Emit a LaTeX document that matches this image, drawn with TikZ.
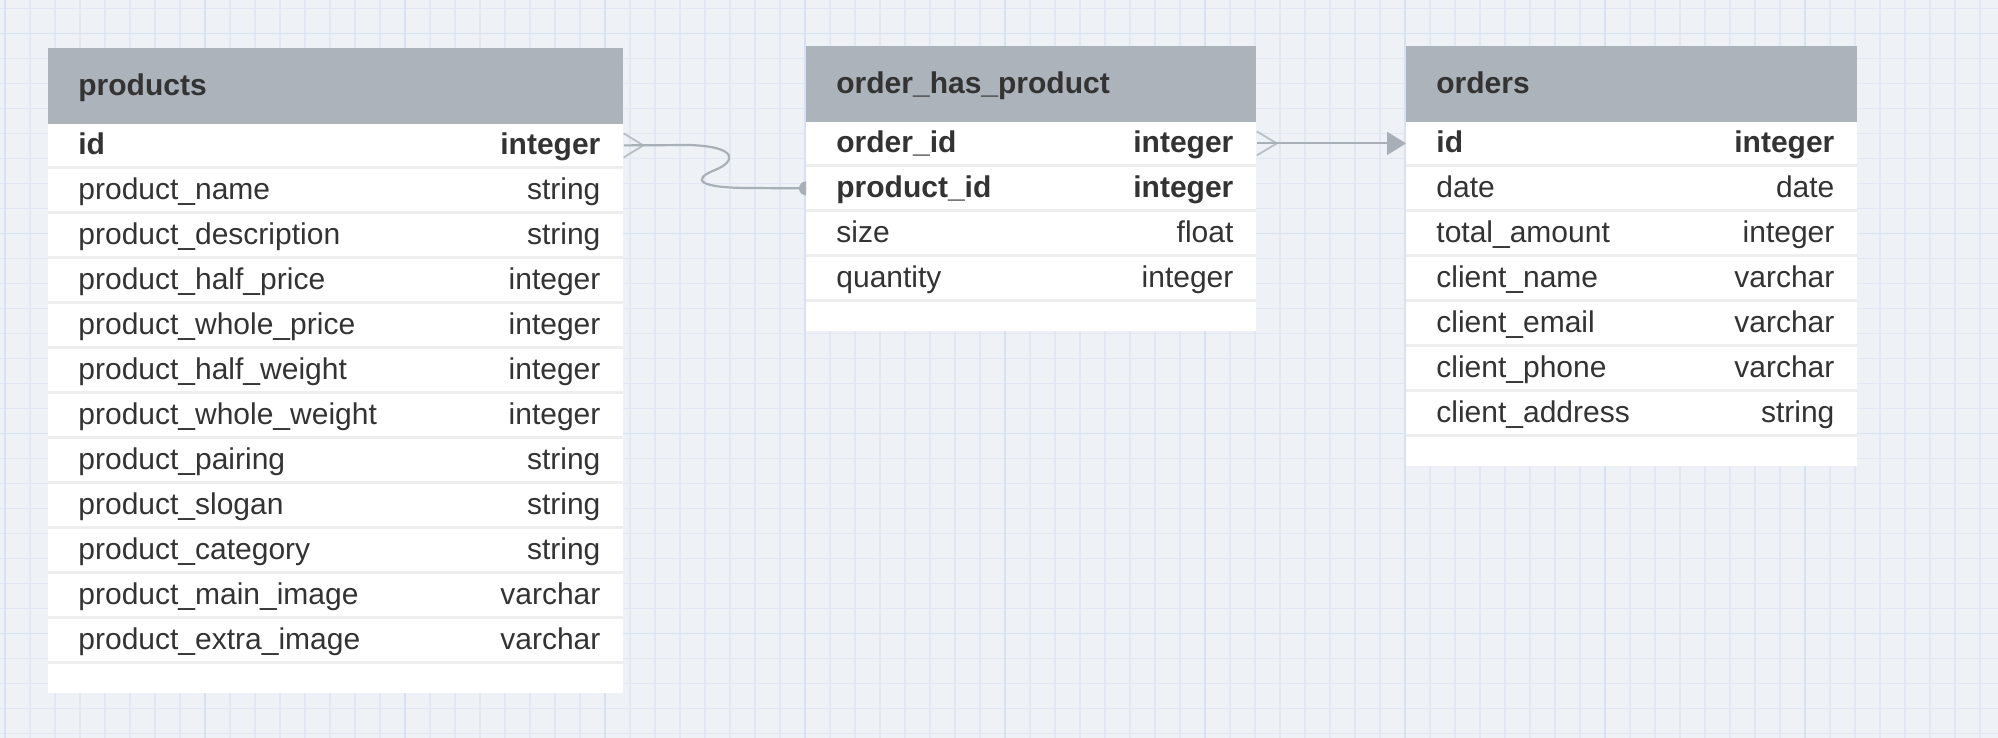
\documentclass[tikz,border=0pt]{standalone}
\usepackage{fontspec}
\setmainfont{Liberation Sans}
\usetikzlibrary{arrows.meta}

\definecolor{canvas}{HTML}{EEF2F6}
\definecolor{gridlo}{HTML}{E1E8F3}
\definecolor{gridhi}{HTML}{D8E1F2}
\definecolor{headgrey}{HTML}{ADB3BB}
\definecolor{sepgrey}{HTML}{EEEEEE}
\definecolor{ink}{HTML}{333333}
\definecolor{linkgrey}{HTML}{A9AFB7}
\definecolor{footgrey}{HTML}{B9BFC6}

\newcommand\fieldfont{\fontsize{15pt}{18pt}\selectfont}

\tikzset{
  row/.style={anchor=north west, fill=white, inner xsep=15pt, inner ysep=0pt,
    minimum height=21pt, text width=#1, align=left,
    text height=11pt, text depth=1.5pt, font=\fieldfont, text=ink},
  keyrow/.style={row=#1, font=\fieldfont\bfseries},
  head/.style={row=#1, fill=headgrey, minimum height=38pt, font=\fieldfont\bfseries},
  ftype/.style={anchor=east, xshift=-11.5pt, inner sep=0pt,
    text height=11pt, text depth=1.5pt, font=\fieldfont, text=ink},
  keytype/.style={ftype, font=\fieldfont\bfseries},
  minorline/.style={draw=gridlo, line width=0.75pt},
  majorline/.style={draw=gridhi, line width=0.75pt},
  link/.style={draw=linkgrey, line width=1.1pt},
  foot/.style={draw=footgrey, line width=0.9pt}
}

\begin{document}
\begin{tikzpicture}[x=0.5pt,y=-0.5pt]
\useasboundingbox (0,0) rectangle (1998,738);
\fill[canvas] (0,0) rectangle (1998,738);

% grid
\foreach \gx in {5,30,...,1980} \draw[minorline] (\gx,0) -- (\gx,738);
\foreach \gy in {8.5,33.5,...,733.5} \draw[minorline] (0,\gy) -- (1998,\gy);
\foreach \gx in {5,205,...,1805} \draw[majorline] (\gx,0) -- (\gx,738);
\foreach \gy in {33.5,233.5,433.5,633.5} \draw[majorline] (0,\gy) -- (1998,\gy);

% products
\fill[sepgrey] (48,124) rectangle (623,664);
\fill[white] (48,664) rectangle (623,693);
\node[head=257.5pt] (products) at (48,48) {products};
\node[keyrow=257.5pt, label={[keytype]east:integer}] (p-id) at (48,124) {id};
\node[row=257.5pt, label={[ftype]east:string}] (p-name) at (48,169) {product\_name};
\node[row=257.5pt, label={[ftype]east:string}] (p-desc) at (48,214) {product\_description};
\node[row=257.5pt, label={[ftype]east:integer}] (p-hprice) at (48,259) {product\_half\_price};
\node[row=257.5pt, label={[ftype]east:integer}] (p-wprice) at (48,304) {product\_whole\_price};
\node[row=257.5pt, label={[ftype]east:integer}] (p-hweight) at (48,349) {product\_half\_weight};
\node[row=257.5pt, label={[ftype]east:integer}] (p-wweight) at (48,394) {product\_whole\_weight};
\node[row=257.5pt, label={[ftype]east:string}] (p-pairing) at (48,439) {product\_pairing};
\node[row=257.5pt, label={[ftype]east:string}] (p-slogan) at (48,484) {product\_slogan};
\node[row=257.5pt, label={[ftype]east:string}] (p-cat) at (48,529) {product\_category};
\node[row=257.5pt, label={[ftype]east:varchar}] (p-mimg) at (48,574) {product\_main\_image};
\node[row=257.5pt, label={[ftype]east:varchar}] (p-ximg) at (48,619) {product\_extra\_image};

% order_has_product
\fill[sepgrey] (806,122) rectangle (1256,302);
\fill[white] (806,302) rectangle (1256,331);
\node[head=195pt] (ohp) at (806,46) {order\_has\_product};
\node[keyrow=195pt, label={[keytype]east:integer}] (ohp-oid) at (806,122) {order\_id};
\node[keyrow=195pt, label={[keytype]east:integer}] (ohp-pid) at (806,167) {product\_id};
\node[row=195pt, label={[ftype]east:float}] (ohp-size) at (806,212) {size};
\node[row=195pt, label={[ftype]east:integer}] (ohp-qty) at (806,257) {quantity};

% orders
\fill[sepgrey] (1406,122) rectangle (1857,437);
\fill[white] (1406,437) rectangle (1857,466);
\node[head=195.5pt] (orders) at (1406,46) {orders};
\node[keyrow=195.5pt, label={[keytype]east:integer}] (o-id) at (1406,122) {id};
\node[row=195.5pt, label={[ftype]east:date}] (o-date) at (1406,167) {date};
\node[row=195.5pt, label={[ftype]east:integer}] (o-total) at (1406,212) {total\_amount};
\node[row=195.5pt, label={[ftype]east:varchar}] (o-name) at (1406,257) {client\_name};
\node[row=195.5pt, label={[ftype]east:varchar}] (o-email) at (1406,302) {client\_email};
\node[row=195.5pt, label={[ftype]east:varchar}] (o-phone) at (1406,347) {client\_phone};
\node[row=195.5pt, label={[ftype]east:string}] (o-addr) at (1406,392) {client\_address};

% products.id >-- order_has_product.product_id
\draw[foot] ([yshift=6pt]p-id.east) -- ([xshift=9.75pt]p-id.east) -- ([yshift=-6pt]p-id.east);
\draw[link] (p-id.east) -- (690,145) .. controls (740,147) and (735,162) .. (715,170)
  .. controls (690,180) and (700,188) .. (750,188) -- (ohp-pid.west);
\fill[linkgrey] ([yshift=3.5pt]ohp-pid.west) arc[start angle=90, end angle=270, radius=3.5pt] -- cycle;

% order_has_product.order_id >--> orders.id
\draw[foot] ([yshift=6pt]ohp-oid.east) -- ([xshift=10pt]ohp-oid.east) -- ([yshift=-6pt]ohp-oid.east);
\draw[link, -{Triangle[length=9.5pt, width=11.5pt]}] (ohp-oid.east) -- (o-id.west);
\end{tikzpicture}
\end{document}
